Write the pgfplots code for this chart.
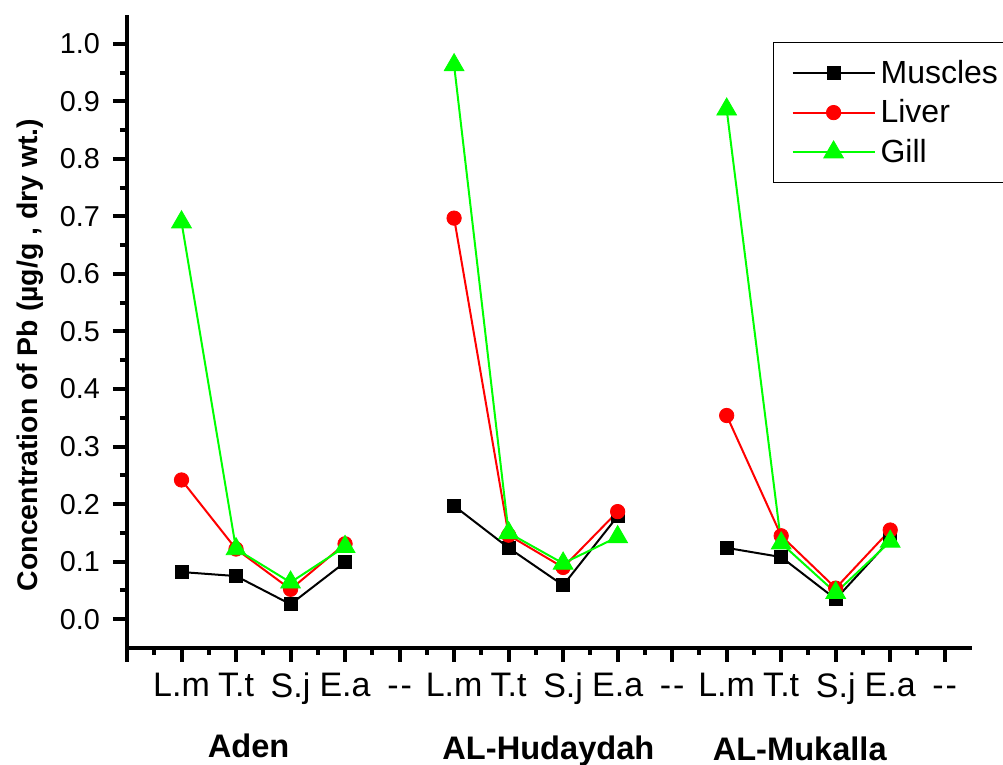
\documentclass[border=0pt]{standalone}
\usepackage{pgfplots}
\pgfplotsset{compat=1.18}
\usepackage{fontspec}
\setmainfont{Liberation Sans}
\definecolor{pgreen}{RGB}{0,255,0}
\definecolor{pred}{RGB}{255,0,0}
\newcommand{\dd}{\vphantom{L}\mbox{-}\kern1pt\mbox{-}}
\begin{document}
\begin{tikzpicture}
\begin{axis}[
  scale only axis,
  width=422.5pt, height=316.5pt,
  xmin=0, xmax=15.5, ymin=-0.05, ymax=1.05,
  axis lines=left,
  axis line style={-, line width=2pt},
  every tick/.style={line width=2pt, black},
  tick align=outside,
  major tick length=7pt, minor tick length=3.5pt,
  xtick={0,...,15},
  xticklabels={,L.m,T.t,S.j,E.a,\dd,L.m,T.t,S.j,E.a,\dd,L.m,T.t,S.j,E.a,\dd},
  minor x tick num=1,
  ytick={0,0.1,...,1.0},
  minor y tick num=1,
  yticklabel style={/pgf/number format/fixed, /pgf/number format/fixed zerofill, /pgf/number format/precision=1, /pgf/number format/assume math mode=true, font=\fontsize{14.4}{17}\selectfont, xshift=-3pt},
  xticklabel style={font=\fontsize{17}{20}\selectfont, yshift=-2pt},
  ylabel={\textbf{Concentration of Pb (µg/g , dry wt.)}},
  every axis y label/.style={at={(axis description cs:-0.1148,0.463)}, rotate=90, anchor=center, font=\fontsize{14.2}{17}\selectfont},
  unbounded coords=jump,
  clip=false,
  legend style={at={(axis description cs:0.7645,0.957)}, anchor=north west, draw=black, line width=0.6pt, font=\fontsize{16}{19}\selectfont, inner xsep=9pt, inner ysep=6pt, row sep=1.75pt, nodes={inner sep=2.5pt}},
  legend cell align=left,
  legend image code/.code={\draw[mark repeat=2, mark phase=2] plot coordinates {(0pt,0pt) (20.5pt,0pt) (41pt,0pt)};},
]
\addplot[black, line width=1pt, mark=square*, mark size=3.3pt, mark options={solid, line width=0.4pt}] coordinates {
(1,0.082) (2,0.075) (3,0.026) (4,0.099) (5,nan)
(6,0.197) (7,0.124) (8,0.059) (9,0.179) (10,nan)
(11,0.124) (12,0.108) (13,0.035) (14,0.138)};
\addlegendentry{Muscles}
\addplot[pred, line width=1pt, mark=*, mark size=3.6pt, mark options={solid, line width=0.4pt}] coordinates {
(1,0.242) (2,0.122) (3,0.052) (4,0.131) (5,nan)
(6,0.697) (7,0.146) (8,0.090) (9,0.187) (10,nan)
(11,0.354) (12,0.145) (13,0.054) (14,0.155)};
\addlegendentry{Liver}
\addplot[pgreen, line width=1pt, mark=triangle*, mark size=5.7pt, mark options={solid, line width=0.4pt}] coordinates {
(1,0.690) (2,0.122) (3,0.064) (4,0.126) (5,nan)
(6,0.963) (7,0.150) (8,0.097) (9,0.143) (10,nan)
(11,0.886) (12,0.132) (13,0.046) (14,0.135)};
\addlegendentry{Gill}
\node[anchor=base, font=\bfseries\fontsize{16.3}{19}\selectfont] at (axis cs:2.23,-0.240) {Aden};
\node[anchor=base, font=\bfseries\fontsize{16.3}{19}\selectfont] at (axis cs:7.73,-0.244) {AL-Hudaydah};
\node[anchor=base, font=\bfseries\fontsize{16.3}{19}\selectfont] at (axis cs:12.34,-0.245) {AL-Mukalla};
\end{axis}
\pgfresetboundingbox
\path (-63.5pt,-58.5pt) rectangle (438pt,324pt);
\end{tikzpicture}
\end{document}
